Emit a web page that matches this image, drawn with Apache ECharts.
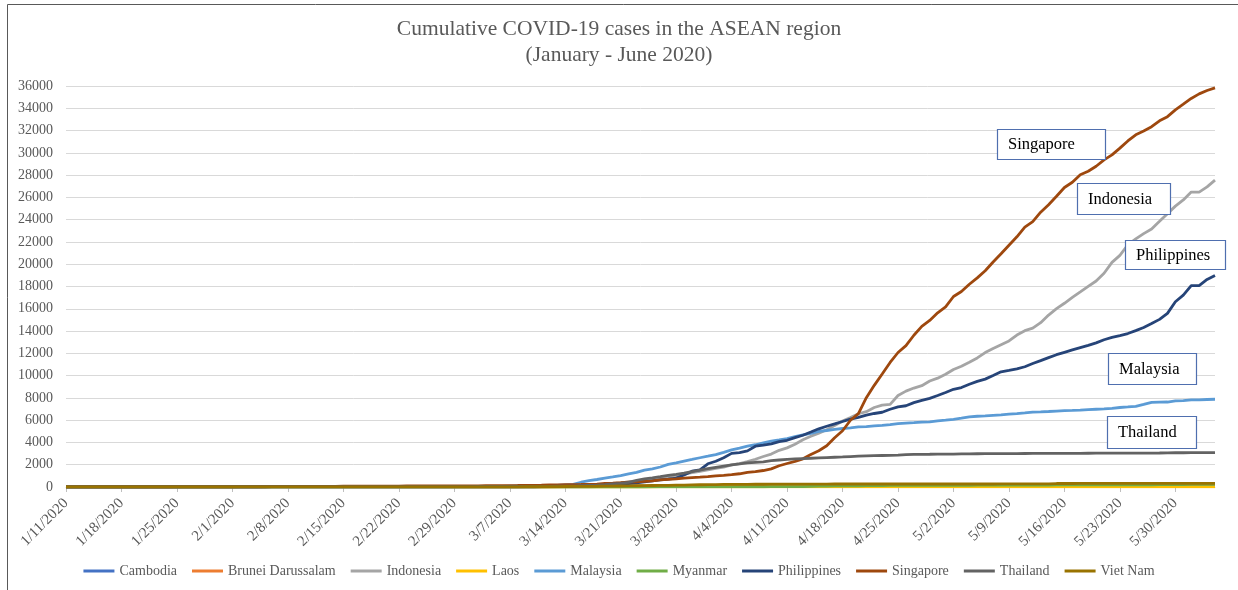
<!DOCTYPE html>
<html>
<head>
<meta charset="utf-8">
<title>Cumulative COVID-19 cases in the ASEAN region</title>
<script src="https://cdn.jsdelivr.net/npm/echarts@6/dist/echarts.min.js"></script>
<style>
html, body { margin: 0; padding: 0; background: #fff; }
#main { width: 1238px; height: 590px; }
</style>
</head>
<body>
<div id="main"></div>
<script>
// first day on the axis and number of days (1/11/2020 .. 6/4/2020)
var startDay = new Date(2020, 0, 11);
var dayCount = 146;

var countries = ['Cambodia', 'Brunei Darussalam', 'Indonesia', 'Laos', 'Malaysia',
                 'Myanmar', 'Philippines', 'Singapore', 'Thailand', 'Viet Nam'];
var colors = ['#4472C4', '#ED7D31', '#A5A5A5', '#FFC000', '#5B9BD5',
              '#70AD47', '#264478', '#9E480E', '#636363', '#997300'];

// cumulative cases per day
var cambodia = [
  0,0,0,0,0,0,0,0,0,0,0,0,0,0,0,0,0,1,1,1,1,1,
  1,1,1,1,1,1,1,1,1,1,1,1,1,1,1,1,1,1,1,1,1,1,1,1,1,1,1,1,1,
  1,1,1,1,1,1,2,2,2,2,3,5,5,7,7,12,33,35,37,51,53,84,87,91,96,96,99,103,103,107,109,
  109,110,114,114,114,115,115,117,117,119,120,120,122,122,122,122,122,122,122,122,122,122,122,122,122,122,122,122,122,122,
  122,122,122,122,122,122,122,122,122,122,122,122,122,122,122,122,122,122,122,122,123,124,124,124,124,124,124,124,124,125,125,
  125,125,125
];
var brunei = [
  0,0,0,0,0,0,0,0,0,0,0,0,0,0,0,0,0,0,0,0,0,0,
  0,0,0,0,0,0,0,0,0,0,0,0,0,0,0,0,0,0,0,0,0,0,0,0,0,0,0,0,0,
  0,0,0,0,0,0,0,0,1,1,1,11,37,40,50,54,56,68,75,78,83,88,91,104,109,114,115,120,126,127,129,
  131,133,134,135,135,135,135,135,135,135,136,136,136,136,136,136,136,137,137,138,138,138,138,138,138,138,138,138,138,138,
  138,138,138,138,139,139,141,141,141,141,141,141,141,141,141,141,141,141,141,141,141,141,141,141,141,141,141,141,141,141,141,
  141,141,141
];
var indonesia = [
  0,0,0,0,0,0,0,0,0,0,0,0,0,0,0,0,0,0,0,0,0,0,
  0,0,0,0,0,0,0,0,0,0,0,0,0,0,0,0,0,0,0,0,0,0,0,0,0,0,0,0,0,
  0,2,2,2,2,4,4,6,19,27,34,34,69,96,117,134,172,227,309,369,450,514,579,686,790,893,1046,1155,1285,1414,1528,
  1677,1790,1986,2092,2273,2491,2738,2956,3293,3512,3842,4241,4557,4839,5136,5516,5923,6248,6575,6760,7135,7350,7418,8211,8607,8882,9096,9511,9771,10118,
  10551,10843,11192,11587,12071,12438,12776,13112,13645,14032,14265,14749,15438,16006,16496,17025,17514,18010,18496,19189,20162,20796,21745,22271,22750,23165,23851,24538,25216,25773,26473,
  26473,26940,27549
];
var laos = [
  0,0,0,0,0,0,0,0,0,0,0,0,0,0,0,0,0,0,0,0,0,0,
  0,0,0,0,0,0,0,0,0,0,0,0,0,0,0,0,0,0,0,0,0,0,0,0,0,0,0,0,0,
  0,0,0,0,0,0,0,0,0,0,0,0,0,0,0,0,0,0,0,0,0,0,0,2,3,6,6,8,8,9,9,
  9,10,10,10,11,12,14,15,16,16,16,16,19,19,19,19,19,19,19,19,19,19,19,19,19,19,19,19,19,19,
  19,19,19,19,19,19,19,19,19,19,19,19,19,19,19,19,19,19,19,19,19,19,19,19,19,19,19,19,19,19,19,
  19,19,19
];
var malaysia = [
  0,0,0,0,0,0,0,0,0,0,0,0,0,0,0,3,4,4,4,7,8,8,
  8,8,8,10,12,12,14,16,16,18,18,18,19,19,22,22,22,22,22,22,22,22,22,22,22,22,23,25,25,
  29,29,36,50,50,83,93,99,117,129,149,149,197,238,428,566,673,790,900,1030,1183,1306,1518,1624,1796,2031,2161,2320,2470,2626,2766,
  2908,3116,3333,3483,3662,3793,3963,4119,4228,4346,4530,4683,4817,4987,5072,5182,5251,5305,5389,5425,5482,5532,5603,5691,5742,5780,5820,5851,5945,6002,
  6071,6176,6298,6353,6383,6428,6467,6535,6589,6656,6726,6742,6779,6819,6855,6872,6894,6941,6978,7009,7059,7137,7185,7245,7417,7604,7619,7629,7732,7762,7819,
  7819,7857,7877
];
var myanmar = [
  0,0,0,0,0,0,0,0,0,0,0,0,0,0,0,0,0,0,0,0,0,0,
  0,0,0,0,0,0,0,0,0,0,0,0,0,0,0,0,0,0,0,0,0,0,0,0,0,0,0,0,0,
  0,0,0,0,0,0,0,0,0,0,0,0,0,0,0,0,0,0,0,0,0,0,2,3,3,5,8,8,10,14,15,
  15,20,20,21,21,22,22,27,27,28,39,41,62,74,85,98,98,111,111,119,121,127,139,144,144,146,146,150,150,151,
  151,151,155,161,161,161,161,176,177,178,180,180,181,182,182,184,187,188,191,193,199,199,201,201,201,201,206,206,207,224,228,
  228,228,232
];
var philippines = [
  0,0,0,0,0,0,0,0,0,0,0,0,0,0,0,0,0,0,0,0,1,1,
  1,2,2,2,3,3,3,3,3,3,3,3,3,3,3,3,3,3,3,3,3,3,3,3,3,3,3,3,3,
  3,3,3,3,3,5,6,10,24,33,49,52,64,111,140,142,187,202,217,230,307,380,462,552,636,707,803,1075,1418,1546,2084,
  2311,2633,3018,3094,3246,3660,3764,3870,4076,4195,4428,4648,4932,5223,5453,5660,5878,6087,6259,6459,6599,6710,6981,7192,7294,7579,7777,7958,8212,8488,
  8772,8928,9223,9485,9684,10004,10343,10463,10610,10794,11086,11350,11618,11876,12091,12305,12513,12718,12942,13221,13434,13597,13777,14035,14319,14669,15049,15588,16634,17224,18086,
  18086,18638,18997
];
var singapore = [
  0,0,0,0,0,0,0,0,0,0,0,0,0,1,3,3,4,5,7,7,10,13,
  16,18,18,24,28,30,33,40,43,45,47,50,58,67,72,75,77,81,84,84,85,89,89,90,91,93,96,98,102,
  106,108,110,112,117,130,138,150,150,160,178,178,200,212,226,243,266,313,345,385,432,455,509,558,631,683,732,802,844,879,926,
  1000,1049,1114,1189,1309,1375,1481,1623,1910,2108,2299,2532,2918,3252,3699,4427,5050,5992,6588,8014,9125,10141,11178,12075,12693,13624,14423,14951,15641,16169,
  17101,17548,18205,18778,19410,20198,20939,21707,22460,23336,23822,24671,25346,26098,26891,27356,28038,28343,28794,29364,29812,30426,31068,31616,31960,32343,32876,33249,33860,34366,34884,
  35292,35600,35836
];
var thailand = [
  0,0,0,1,1,2,2,2,2,2,2,4,4,4,5,7,8,8,14,14,14,19,
  19,19,19,25,25,25,25,32,32,32,33,33,33,33,33,34,35,35,35,35,35,35,35,37,40,40,40,41,42,
  42,43,43,43,47,48,50,50,50,53,59,70,75,82,114,147,177,212,272,322,411,599,721,827,934,1045,1136,1245,1388,1524,1651,
  1771,1875,1978,2067,2169,2220,2258,2369,2423,2473,2518,2551,2579,2613,2643,2672,2700,2733,2765,2792,2811,2826,2839,2854,2907,2922,2931,2938,2947,2954,
  2960,2966,2969,2987,2988,2989,2992,3000,3004,3009,3015,3017,3018,3025,3025,3025,3026,3031,3033,3034,3037,3040,3042,3042,3045,3045,3054,3065,3076,3077,3081,
  3081,3082,3083
];
var vietnam = [
  0,0,0,0,0,0,0,0,0,0,0,0,0,2,2,2,2,2,2,2,2,2,
  6,8,8,9,10,12,12,13,14,14,15,15,16,16,16,16,16,16,16,16,16,16,16,16,16,16,16,16,16,
  16,16,16,16,16,17,18,30,31,31,38,39,47,53,56,61,66,75,85,91,94,113,123,134,141,153,163,174,188,203,212,
  218,233,237,240,241,245,249,251,255,257,258,262,265,266,267,268,268,268,268,268,268,268,268,268,270,270,270,270,270,270,
  270,271,271,271,271,271,288,288,288,288,288,288,288,312,314,314,318,320,324,324,324,324,325,325,326,327,327,327,328,328,328,
  328,328,328
];
var seriesData = [cambodia, brunei, indonesia, laos, malaysia, myanmar, philippines, singapore, thailand, vietnam];

// callout boxes: [text, left, top, width, height]
var callouts = [
  ['Singapore',   997, 129, 108, 30],
  ['Indonesia',  1077, 183,  93, 31],
  ['Philippines',1125, 240, 100, 29],
  ['Malaysia',   1108, 353,  88, 31],
  ['Thailand',   1107, 416,  89, 32]
];

//日期标签
var dates = [];
for (var i = 0; i < dayCount; i++) {
    var d = new Date(startDay.getTime() + i * 86400000);
    dates.push((d.getMonth() + 1) + '/' + d.getDate() + '/' + d.getFullYear());
}

var serif = "'Liberation Serif', 'Times New Roman', serif";

var series = [];
for (var k = 0; k < countries.length; k++) {
    series.push({
        name: countries[k],
        type: 'line',
        data: seriesData[k],
        showSymbol: false,
        symbol: 'none',
        lineStyle: { width: 2.8, color: colors[k] },
        itemStyle: { color: colors[k] }
    });
}

var graphic = [{
    type: 'rect',
    silent: true,
    z: 100,
    shape: { x: 7.5, y: 4.5, width: 1240, height: 600 },
    style: { fill: 'none', stroke: '#595959', lineWidth: 1 }
}];
for (var c = 0; c < callouts.length; c++) {
    var b = callouts[c];
    graphic.push({
        type: 'group',
        z: 100,
        x: b[1],
        y: b[2],
        children: [{
            type: 'rect',
            z: 100,
            shape: { x: 0.5, y: 0.5, width: b[3], height: b[4] },
            style: { fill: '#fff', stroke: '#4F6FAF', lineWidth: 1.2 }
        }, {
            type: 'text',
            z: 101,
            x: 11,
            y: b[4] / 2 + 1,
            style: { text: b[0], font: '16.5px ' + serif, fill: '#000', verticalAlign: 'middle' }
        }]
    });
}

var myChart = echarts.init(document.getElementById('main'));
var option = {
    animation: false,
    backgroundColor: '#fff',
    color: colors,
    title: {
        text: 'Cumulative COVID-19 cases in the ASEAN region\n(January - June 2020)',
        left: 'center',
        top: 11,
        textStyle: { fontFamily: serif, fontSize: 21.5, fontWeight: 'normal', color: '#595959', lineHeight: 26 }
    },
    legend: {
        data: countries,
        left: 'center',
        top: 559,
        icon: 'rect',
        itemWidth: 31,
        itemHeight: 3,
        itemGap: 15,
        textStyle: { fontFamily: serif, fontSize: 14, color: '#595959' }
    },
    grid: { left: 66, right: 23, top: 86, bottom: 103 },
    xAxis: {
        type: 'category',
        data: dates,
        boundaryGap: false,
        axisLine: { lineStyle: { color: '#d9d9d9', width: 1 } },
        axisTick: { interval: 6, length: 5, lineStyle: { color: '#bfbfbf' } },
        axisLabel: {
            interval: 6,
            rotate: 45,
            margin: 14,
            fontFamily: serif,
            fontSize: 15,
            color: '#595959'
        }
    },
    yAxis: {
        type: 'value',
        min: 0,
        max: 36000,
        interval: 2000,
        axisLine: { show: false },
        axisTick: { show: false },
        splitLine: { lineStyle: { color: '#d9d9d9', width: 1 } },
        axisLabel: {
            margin: 13,
            fontFamily: serif,
            fontSize: 14,
            color: '#595959',
            formatter: function (v) { return String(v); }
        }
    },
    graphic: graphic,
    series: series
};
myChart.setOption(option);
</script>
</body>
</html>
